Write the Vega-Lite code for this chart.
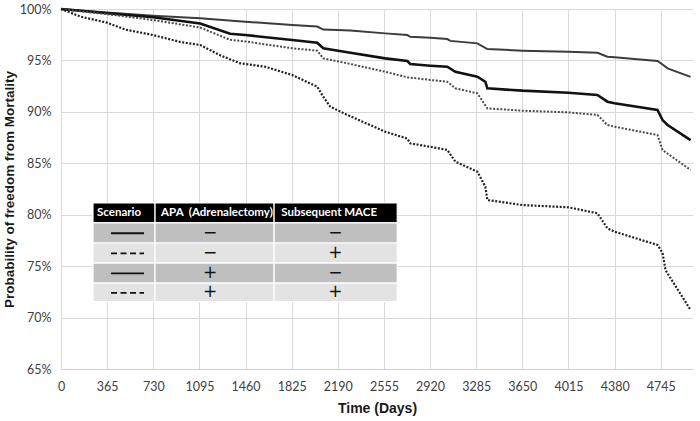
{
  "$schema": "https://vega.github.io/schema/vega-lite/v6.json",
  "width": 632,
  "height": 360,
  "autosize": {"type": "none"},
  "padding": {"left": 61, "top": 9, "right": 7, "bottom": 52},
  "background": "white",
  "config": {
    "view": {"stroke": null},
    "axis": {"labelFont": "Lato", "labelFontSize": 12.5, "labelColor": "#404040", "titleFont": "Liberation Sans", "titleFontSize": 14, "titleFontWeight": "bold", "titleColor": "#1a1a1a", "gridColor": "#d9d9d9", "gridWidth": 1, "ticks": false}
  },
  "datasets": {
    "curves": [
      {"s": "APA+ MACE-", "t": 0, "v": 100}, {"s": "APA+ MACE-", "t": 364, "v": 99.65}, {"s": "APA+ MACE-", "t": 728, "v": 99.35}, {"s": "APA+ MACE-", "t": 1101, "v": 99.1}, {"s": "APA+ MACE-", "t": 1457, "v": 98.77}, {"s": "APA+ MACE-", "t": 1829, "v": 98.45}, {"s": "APA+ MACE-", "t": 2027, "v": 98.3}, {"s": "APA+ MACE-", "t": 2075, "v": 98.0}, {"s": "APA+ MACE-", "t": 2288, "v": 97.9}, {"s": "APA+ MACE-", "t": 2565, "v": 97.63}, {"s": "APA+ MACE-", "t": 2740, "v": 97.47}, {"s": "APA+ MACE-", "t": 2763, "v": 97.3}, {"s": "APA+ MACE-", "t": 2922, "v": 97.2}, {"s": "APA+ MACE-", "t": 3056, "v": 97.08}, {"s": "APA+ MACE-", "t": 3080, "v": 96.9}, {"s": "APA+ MACE-", "t": 3294, "v": 96.66}, {"s": "APA+ MACE-", "t": 3373, "v": 96.1}, {"s": "APA+ MACE-", "t": 3650, "v": 95.95}, {"s": "APA+ MACE-", "t": 4014, "v": 95.85}, {"s": "APA+ MACE-", "t": 4244, "v": 95.75}, {"s": "APA+ MACE-", "t": 4323, "v": 95.36}, {"s": "APA+ MACE-", "t": 4379, "v": 95.3}, {"s": "APA+ MACE-", "t": 4719, "v": 94.94}, {"s": "APA+ MACE-", "t": 4759, "v": 94.6}, {"s": "APA+ MACE-", "t": 4799, "v": 94.23}, {"s": "APA+ MACE-", "t": 4981, "v": 93.4},
      {"s": "APA- MACE-", "t": 0, "v": 100}, {"s": "APA- MACE-", "t": 364, "v": 99.58}, {"s": "APA- MACE-", "t": 728, "v": 99.2}, {"s": "APA- MACE-", "t": 1101, "v": 98.6}, {"s": "APA- MACE-", "t": 1338, "v": 97.6}, {"s": "APA- MACE-", "t": 1457, "v": 97.47}, {"s": "APA- MACE-", "t": 1829, "v": 96.99}, {"s": "APA- MACE-", "t": 2027, "v": 96.72}, {"s": "APA- MACE-", "t": 2075, "v": 96.18}, {"s": "APA- MACE-", "t": 2265, "v": 95.8}, {"s": "APA- MACE-", "t": 2565, "v": 95.2}, {"s": "APA- MACE-", "t": 2740, "v": 94.94}, {"s": "APA- MACE-", "t": 2763, "v": 94.65}, {"s": "APA- MACE-", "t": 2922, "v": 94.49}, {"s": "APA- MACE-", "t": 3056, "v": 94.39}, {"s": "APA- MACE-", "t": 3120, "v": 93.9}, {"s": "APA- MACE-", "t": 3294, "v": 93.42}, {"s": "APA- MACE-", "t": 3357, "v": 92.93}, {"s": "APA- MACE-", "t": 3373, "v": 92.29}, {"s": "APA- MACE-", "t": 3650, "v": 92.06}, {"s": "APA- MACE-", "t": 4014, "v": 91.86}, {"s": "APA- MACE-", "t": 4244, "v": 91.64}, {"s": "APA- MACE-", "t": 4323, "v": 90.99}, {"s": "APA- MACE-", "t": 4379, "v": 90.83}, {"s": "APA- MACE-", "t": 4719, "v": 90.18}, {"s": "APA- MACE-", "t": 4759, "v": 89.2}, {"s": "APA- MACE-", "t": 4799, "v": 88.72}, {"s": "APA- MACE-", "t": 4981, "v": 87.26},
      {"s": "APA+ MACE+", "t": 0, "v": 100}, {"s": "APA+ MACE+", "t": 364, "v": 99.5}, {"s": "APA+ MACE+", "t": 728, "v": 98.93}, {"s": "APA+ MACE+", "t": 1101, "v": 98.2}, {"s": "APA+ MACE+", "t": 1338, "v": 97.0}, {"s": "APA+ MACE+", "t": 1457, "v": 96.85}, {"s": "APA+ MACE+", "t": 1829, "v": 96.18}, {"s": "APA+ MACE+", "t": 2027, "v": 95.95}, {"s": "APA+ MACE+", "t": 2075, "v": 95.2}, {"s": "APA+ MACE+", "t": 2265, "v": 94.72}, {"s": "APA+ MACE+", "t": 2565, "v": 93.9}, {"s": "APA+ MACE+", "t": 2740, "v": 93.36}, {"s": "APA+ MACE+", "t": 2922, "v": 93.1}, {"s": "APA+ MACE+", "t": 3056, "v": 92.93}, {"s": "APA+ MACE+", "t": 3120, "v": 92.29}, {"s": "APA+ MACE+", "t": 3294, "v": 91.8}, {"s": "APA+ MACE+", "t": 3373, "v": 90.34}, {"s": "APA+ MACE+", "t": 3650, "v": 90.11}, {"s": "APA+ MACE+", "t": 4014, "v": 89.95}, {"s": "APA+ MACE+", "t": 4244, "v": 89.7}, {"s": "APA+ MACE+", "t": 4323, "v": 88.72}, {"s": "APA+ MACE+", "t": 4379, "v": 88.56}, {"s": "APA+ MACE+", "t": 4719, "v": 87.75}, {"s": "APA+ MACE+", "t": 4759, "v": 86.29}, {"s": "APA+ MACE+", "t": 4981, "v": 84.35},
      {"s": "APA- MACE+", "t": 0, "v": 100}, {"s": "APA- MACE+", "t": 158, "v": 99.25}, {"s": "APA- MACE+", "t": 364, "v": 98.67}, {"s": "APA- MACE+", "t": 507, "v": 98.0}, {"s": "APA- MACE+", "t": 728, "v": 97.47}, {"s": "APA- MACE+", "t": 942, "v": 96.8}, {"s": "APA- MACE+", "t": 1101, "v": 96.5}, {"s": "APA- MACE+", "t": 1259, "v": 95.5}, {"s": "APA- MACE+", "t": 1417, "v": 94.72}, {"s": "APA- MACE+", "t": 1615, "v": 94.39}, {"s": "APA- MACE+", "t": 1829, "v": 93.58}, {"s": "APA- MACE+", "t": 2027, "v": 92.45}, {"s": "APA- MACE+", "t": 2075, "v": 91.47}, {"s": "APA- MACE+", "t": 2130, "v": 90.5}, {"s": "APA- MACE+", "t": 2265, "v": 89.7}, {"s": "APA- MACE+", "t": 2565, "v": 88.07}, {"s": "APA- MACE+", "t": 2740, "v": 87.4}, {"s": "APA- MACE+", "t": 2763, "v": 86.94}, {"s": "APA- MACE+", "t": 2922, "v": 86.6}, {"s": "APA- MACE+", "t": 3056, "v": 86.3}, {"s": "APA- MACE+", "t": 3120, "v": 85.16}, {"s": "APA- MACE+", "t": 3294, "v": 84.18}, {"s": "APA- MACE+", "t": 3357, "v": 82.73}, {"s": "APA- MACE+", "t": 3373, "v": 81.43}, {"s": "APA- MACE+", "t": 3650, "v": 80.94}, {"s": "APA- MACE+", "t": 4014, "v": 80.72}, {"s": "APA- MACE+", "t": 4244, "v": 80.14}, {"s": "APA- MACE+", "t": 4323, "v": 78.68}, {"s": "APA- MACE+", "t": 4379, "v": 78.35}, {"s": "APA- MACE+", "t": 4719, "v": 77.06}, {"s": "APA- MACE+", "t": 4759, "v": 76.28}, {"s": "APA- MACE+", "t": 4783, "v": 74.6}, {"s": "APA- MACE+", "t": 4981, "v": 70.74}
    ],
    "cells": [
      {"row": "header", "x1": 253, "x2": 744, "y1": 81.15, "y2": 79.2},
      {"row": "header", "x1": 744, "x2": 1686, "y1": 81.15, "y2": 79.2},
      {"row": "header", "x1": 1686, "x2": 2660, "y1": 81.15, "y2": 79.2},
      {"row": "dark", "x1": 253, "x2": 744, "y1": 79.2, "y2": 77.25},
      {"row": "dark", "x1": 744, "x2": 1686, "y1": 79.2, "y2": 77.25},
      {"row": "dark", "x1": 1686, "x2": 2660, "y1": 79.2, "y2": 77.25},
      {"row": "light", "x1": 253, "x2": 744, "y1": 77.25, "y2": 75.3},
      {"row": "light", "x1": 744, "x2": 1686, "y1": 77.25, "y2": 75.3},
      {"row": "light", "x1": 1686, "x2": 2660, "y1": 77.25, "y2": 75.3},
      {"row": "dark", "x1": 253, "x2": 744, "y1": 75.3, "y2": 73.35},
      {"row": "dark", "x1": 744, "x2": 1686, "y1": 75.3, "y2": 73.35},
      {"row": "dark", "x1": 1686, "x2": 2660, "y1": 75.3, "y2": 73.35},
      {"row": "light", "x1": 253, "x2": 744, "y1": 73.35, "y2": 71.55},
      {"row": "light", "x1": 744, "x2": 1686, "y1": 73.35, "y2": 71.55},
      {"row": "light", "x1": 1686, "x2": 2660, "y1": 73.35, "y2": 71.55}
    ],
    "headers": [
      {"x": 285, "y": 80.2, "label": "Scenario"},
      {"x": 792, "y": 80.2, "label": "APA\u00a0\u00a0(Adrenalectomy)"},
      {"x": 1742, "y": 80.2, "label": "Subsequent MACE"}
    ],
    "signs": [
      {"x": 1180, "y": 78.25, "label": "−"}, {"x": 2170, "y": 78.25, "label": "−"},
      {"x": 1180, "y": 76.3, "label": "−"}, {"x": 2170, "y": 76.3, "label": "+"},
      {"x": 1180, "y": 74.35, "label": "+"}, {"x": 2170, "y": 74.35, "label": "−"},
      {"x": 1180, "y": 72.45, "label": "+"}, {"x": 2170, "y": 72.45, "label": "+"}
    ],
    "symbols": [
      {"x1": 396, "x2": 657, "y": 78.2, "kind": "solid"},
      {"x1": 396, "x2": 657, "y": 76.25, "kind": "dashed"},
      {"x1": 396, "x2": 657, "y": 74.3, "kind": "solid"},
      {"x1": 396, "x2": 657, "y": 72.4, "kind": "dashed"}
    ]
  },
  "layer": [
    {
      "data": {"name": "curves"},
      "transform": [{"filter": "datum.s === 'APA+ MACE-'"}],
      "mark": {"type": "line", "stroke": "#3c3c3c", "strokeWidth": 2},
      "encoding": {
        "x": {"field": "t", "type": "quantitative", "scale": {"domain": [0, 5000], "nice": false}, "axis": {"values": [0, 365, 730, 1095, 1460, 1825, 2190, 2555, 2920, 3285, 3650, 4015, 4380, 4745], "format": "d", "title": "Time (Days)", "labelPadding": 11, "titlePadding": 9, "domainColor": "#d0d0d0", "grid": true, "labelFlush": false}},
        "y": {"field": "v", "type": "quantitative", "scale": {"domain": [65, 100], "nice": false}, "axis": {"values": [65, 70, 75, 80, 85, 90, 95, 100], "labelExpr": "datum.value + '%'", "title": "Probability of freedom from Mortality", "titleFontSize": 13.5, "domain": false, "labelPadding": 10, "titlePadding": 3, "grid": true}}
      }
    },
    {
      "data": {"name": "curves"},
      "transform": [{"filter": "datum.s === 'APA- MACE-'"}],
      "mark": {"type": "line", "stroke": "#111111", "strokeWidth": 2.6},
      "encoding": {"x": {"field": "t", "type": "quantitative"}, "y": {"field": "v", "type": "quantitative"}}
    },
    {
      "data": {"name": "curves"},
      "transform": [{"filter": "datum.s === 'APA+ MACE+'"}],
      "mark": {"type": "line", "stroke": "#4a4a4a", "strokeWidth": 2, "strokeDash": [2, 1.6]},
      "encoding": {"x": {"field": "t", "type": "quantitative"}, "y": {"field": "v", "type": "quantitative"}}
    },
    {
      "data": {"name": "curves"},
      "transform": [{"filter": "datum.s === 'APA- MACE+'"}],
      "mark": {"type": "line", "stroke": "#222222", "strokeWidth": 2.2, "strokeDash": [2, 1.6]},
      "encoding": {"x": {"field": "t", "type": "quantitative"}, "y": {"field": "v", "type": "quantitative"}}
    },
    {
      "data": {"name": "cells"},
      "mark": {"type": "rect", "stroke": "white", "strokeWidth": 1.2},
      "encoding": {
        "x": {"field": "x1", "type": "quantitative"},
        "x2": {"field": "x2"},
        "y": {"field": "y1", "type": "quantitative"},
        "y2": {"field": "y2"},
        "fill": {"field": "row", "type": "nominal", "scale": {"domain": ["header", "dark", "light"], "range": ["#000000", "#bfbfbf", "#e3e3e3"]}, "legend": null}
      }
    },
    {
      "data": {"name": "headers"},
      "mark": {"type": "text", "align": "left", "baseline": "middle", "font": "Lato", "fontWeight": "bold", "fontSize": 11.5, "color": "white"},
      "encoding": {"x": {"field": "x", "type": "quantitative"}, "y": {"field": "y", "type": "quantitative"}, "text": {"field": "label"}}
    },
    {
      "data": {"name": "signs"},
      "mark": {"type": "text", "align": "center", "baseline": "middle", "font": "DejaVu Sans", "fontSize": 17, "color": "#111111"},
      "encoding": {"x": {"field": "x", "type": "quantitative"}, "y": {"field": "y", "type": "quantitative"}, "text": {"field": "label"}}
    },
    {
      "data": {"name": "symbols"},
      "transform": [{"filter": "datum.kind === 'solid'"}],
      "mark": {"type": "rule", "stroke": "#111111", "strokeWidth": 1.8},
      "encoding": {"x": {"field": "x1", "type": "quantitative"}, "x2": {"field": "x2"}, "y": {"field": "y", "type": "quantitative"}}
    },
    {
      "data": {"name": "symbols"},
      "transform": [{"filter": "datum.kind === 'dashed'"}],
      "mark": {"type": "rule", "stroke": "#111111", "strokeWidth": 1.8, "strokeDash": [6, 3.5]},
      "encoding": {"x": {"field": "x1", "type": "quantitative"}, "x2": {"field": "x2"}, "y": {"field": "y", "type": "quantitative"}}
    }
  ]
}
